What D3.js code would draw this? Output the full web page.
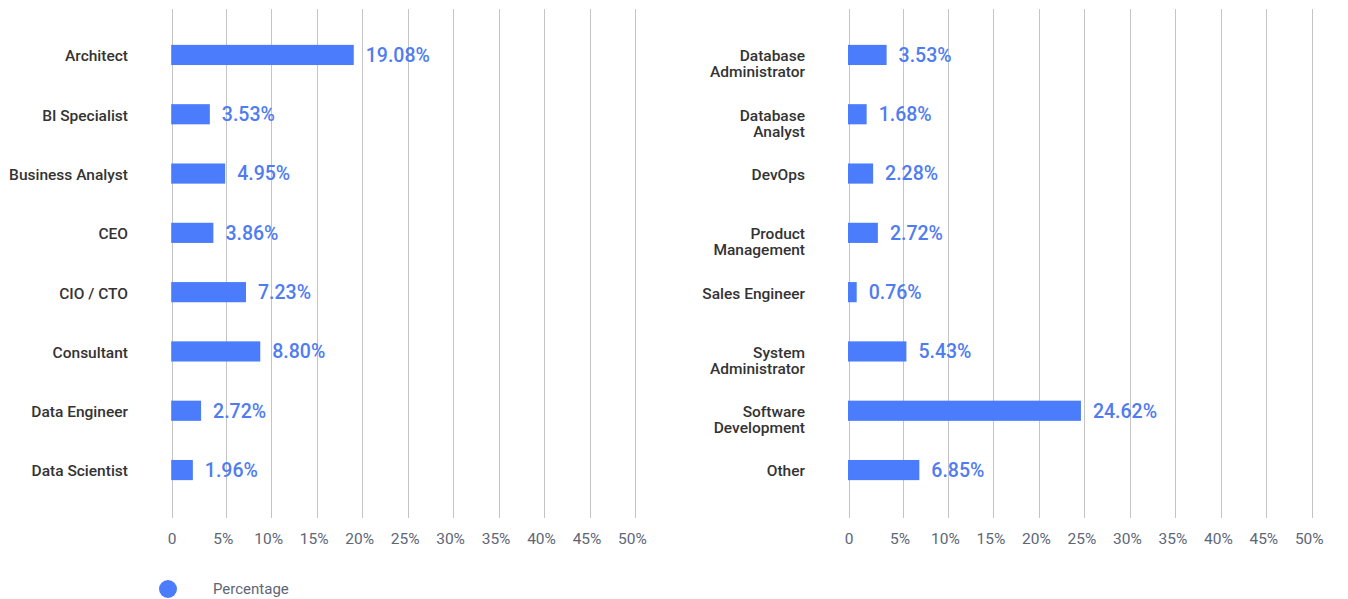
<!DOCTYPE html>
<html>
<head>
<meta charset="utf-8">
<script src="https://cdn.jsdelivr.net/npm/d3@7"></script>
<style>
  html, body { margin: 0; padding: 0; background: #fff; }
  svg { display: block; }
</style>
</head>
<body>
<svg id="chart" width="1348" height="599"></svg>
<script>
const leftCategories = ["Architect", "BI Specialist", "Business Analyst", "CEO", "CIO / CTO", "Consultant", "Data Engineer", "Data Scientist"];
const leftValues = [19.08, 3.53, 4.95, 3.86, 7.23, 8.80, 2.72, 1.96];
const rightCategories = ["Database Administrator", "Database Analyst", "DevOps", "Product Management", "Sales Engineer", "System Administrator", "Software Development", "Other"];
const rightValues = [3.53, 1.68, 2.28, 2.72, 0.76, 5.43, 24.62, 6.85];
const rightLabelLines = [["Database", "Administrator"], ["Database", "Analyst"], ["DevOps"], ["Product", "Management"], ["Sales Engineer"], ["System", "Administrator"], ["Software", "Development"], ["Other"]];
const tickValues = [0, 5, 10, 15, 20, 25, 30, 35, 40, 45, 50];
const tickLabels = ["0", "5%", "10%", "15%", "20%", "25%", "30%", "35%", "40%", "45%", "50%"];
const seriesName = "Percentage";

const svg = d3.select("#chart");
const barColor = "#4b7cfb";
const valueColor = "#4f7cf0";

function panel(originX, labelRight, cats, vals, lines) {
  const g = svg.append("g");
  const x = d3.scaleLinear().domain([0, 5, 50]).range([originX, originX + 54, originX + 463.3]);
  const y = d3.scaleBand().domain(cats).range([25.3, 499.7]).paddingInner(0.66).paddingOuter(0.33);

  g.selectAll("line.grid").data(tickValues).enter().append("line")
    .attr("x1", d => Math.round(x(d)) + 0.5).attr("x2", d => Math.round(x(d)) + 0.5)
    .attr("y1", 9).attr("y2", 518)
    .attr("stroke", "#c4c4c4").attr("stroke-width", 1);

  const axis = d3.axisBottom(x).tickValues(tickValues).tickFormat((d, i) => tickLabels[i]).tickSize(0).tickPadding(0);
  const ag = g.append("g").attr("transform", "translate(0,533)").call(axis);
  ag.select(".domain").remove();
  ag.selectAll("text")
    .attr("dx", (d) => d === 0 ? 0 : -3)
    .attr("dy", "0.32em")
    .attr("y", 6)
    .style("font-family", "Roboto, sans-serif")
    .style("font-size", "15.5px")
    .style("fill", "#5d6676");

  g.selectAll("rect.bar").data(vals).enter().append("rect")
    .attr("x", x(0) - 0.5)
    .attr("y", (d, i) => y(cats[i]))
    .attr("width", d => x(d) - x(0) + 0.5)
    .attr("height", y.bandwidth())
    .attr("fill", barColor);

  g.selectAll("text.val").data(vals).enter().append("text")
    .attr("x", d => x(d) + 12)
    .attr("y", (d, i) => y(cats[i]) + y.bandwidth() / 2)
    .attr("dy", "0.35em")
    .style("font-family", "Roboto, sans-serif")
    .style("font-weight", 500)
    .style("font-size", "19.5px")
    .style("fill", valueColor)
    .text(d => d.toFixed(2) + "%");

  cats.forEach((c, i) => {
    const ls = lines ? lines[i] : [c];
    const t = g.append("text")
      .attr("x", labelRight)
      .attr("y", y(c) + y.bandwidth() / 2 + 1)
      .attr("text-anchor", "end")
      .style("font-family", "Roboto, sans-serif")
      .style("font-weight", 500)
      .style("font-size", "15.5px")
      .style("fill", "#333333");
    ls.forEach((l, j) => {
      t.append("tspan").attr("x", labelRight).attr("dy", j === 0 ? "0.35em" : "16px").text(l);
    });
  });
}

panel(171.7, 128, leftCategories, leftValues, null);
panel(848.5, 805, rightCategories, rightValues, rightLabelLines);

svg.append("circle").attr("cx", 168).attr("cy", 589).attr("r", 9).attr("fill", barColor);
svg.append("text").attr("x", 213).attr("y", 589).attr("dy", "0.35em")
  .style("font-family", "Roboto, sans-serif").style("font-size", "15px").style("fill", "#5d6676")
  .text(seriesName);
</script>
</body>
</html>
